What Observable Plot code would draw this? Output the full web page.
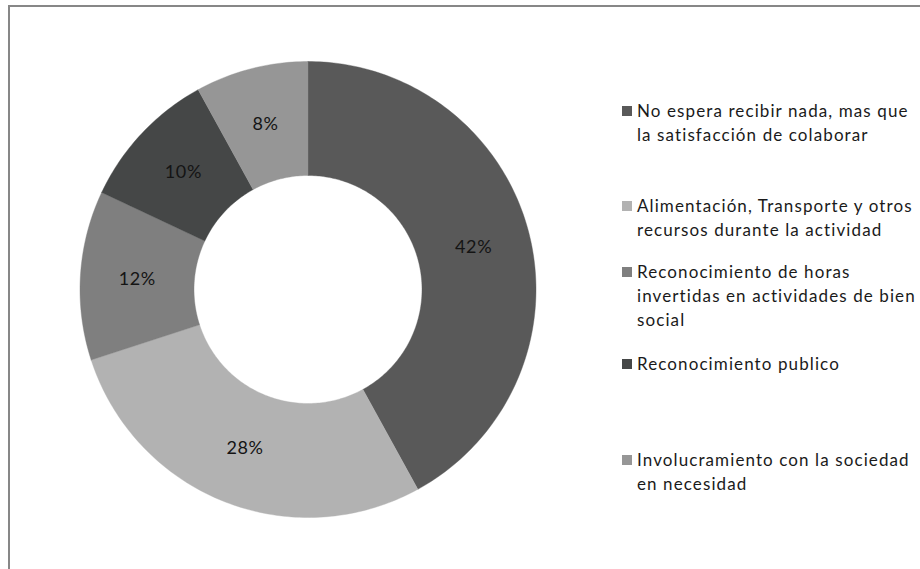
<!DOCTYPE html>
<html>
<head>
<meta charset="utf-8">
<script src="https://cdn.jsdelivr.net/npm/d3@7"></script>
<script src="https://cdn.jsdelivr.net/npm/@observablehq/plot@0.6"></script>
<style>
  html, body { margin: 0; padding: 0; background: #fff; overflow: hidden; width: 920px; height: 569px; }
  #wrap { position: relative; width: 920px; height: 569px; overflow: hidden; }
  #border { position: absolute; left: 8px; top: 5px; width: 1200px; height: 900px; border-left: 2px solid #878787; border-top: 2px solid #878787; box-sizing: border-box; }
  #chart { position: absolute; left: 0; top: 0; }
  #legend { position: absolute; left: 0; top: 0; font-family: Lato, "Open Sans", sans-serif; font-size: 17px; letter-spacing: 1.1px; color: #1a1a1a; }
  .item { position: absolute; left: 622px; line-height: 24px; }
  .sw { position: absolute; left: 0; top: 7px; width: 10px; height: 10px; }
  .tx { position: absolute; left: 15px; top: 0; white-space: pre; }
</style>
</head>
<body>
<div id="wrap">
  <div id="border"></div>
  <div id="chart"></div>
  <div id="legend"></div>
</div>
<script>
// ---- data ----
const categories = [
  "No espera recibir nada, mas que\nla satisfacción de colaborar",
  "Alimentación, Transporte y otros\nrecursos durante la actividad",
  "Reconocimiento de horas\ninvertidas en actividades de bien\nsocial",
  "Reconocimiento publico",
  "Involucramiento con la sociedad\nen necesidad"
];
const values = [42, 28, 12, 10, 8];
const colors = ["#595959", "#b2b2b2", "#7f7f7f", "#454747", "#969696"];

// ---- layout ----
const legendTops = [99, 194, 260, 352, 448];
const innerRatio = 0.5;
const labelRadius = 0.75;

const pie = d3.pie().sort(null).value(d => d.value);
const arcs = pie(categories.map((c, i) => ({cat: c, value: values[i]})));

// polygon outline of each donut slice, in unit-circle coordinates
const outline = [];
arcs.forEach(a => {
  const n = Math.max(8, Math.ceil((a.endAngle - a.startAngle) / (Math.PI / 180)));
  const pts = [];
  for (let k = 0; k <= n; k++) {
    const t = a.startAngle + (a.endAngle - a.startAngle) * k / n;
    pts.push([Math.sin(t), Math.cos(t)]);
  }
  for (let k = n; k >= 0; k--) {
    const t = a.startAngle + (a.endAngle - a.startAngle) * k / n;
    pts.push([innerRatio * Math.sin(t), innerRatio * Math.cos(t)]);
  }
  pts.push(pts[0]);
  pts.forEach(p => outline.push({cat: a.data.cat, x: p[0], y: p[1]}));
});

const labels = arcs.map(a => {
  const m = (a.startAngle + a.endAngle) / 2;
  return {x: labelRadius * Math.sin(m), y: labelRadius * Math.cos(m), text: a.data.value + "%"};
});

const plot = Plot.plot({
  width: 920,
  height: 569,
  marginLeft: 79.5,
  marginRight: 384.5,
  marginTop: 61,
  marginBottom: 52,
  x: {domain: [-1, 1], axis: null},
  y: {domain: [-1, 1], axis: null},
  color: {domain: categories, range: colors},
  style: {background: "transparent", overflow: "visible"},
  marks: [
    Plot.line(outline, {x: "x", y: "y", z: "cat", fill: "cat", stroke: "cat", strokeWidth: 0.4, curve: "linear"}),
    Plot.text(labels, {x: "x", y: "y", text: "text", fontSize: 18, fill: "#141414", fontFamily: "Lato, 'Open Sans', sans-serif"})
  ]
});
document.getElementById("chart").appendChild(plot);
plot.querySelectorAll("text").forEach(t => t.style.letterSpacing = "0.6px");

const legend = document.getElementById("legend");
categories.forEach((c, i) => {
  const item = document.createElement("div");
  item.className = "item";
  item.style.top = legendTops[i] + "px";
  const sw = document.createElement("div");
  sw.className = "sw";
  sw.style.background = colors[i];
  const tx = document.createElement("div");
  tx.className = "tx";
  tx.textContent = c;
  item.appendChild(sw);
  item.appendChild(tx);
  legend.appendChild(item);
});
</script>
</body>
</html>
